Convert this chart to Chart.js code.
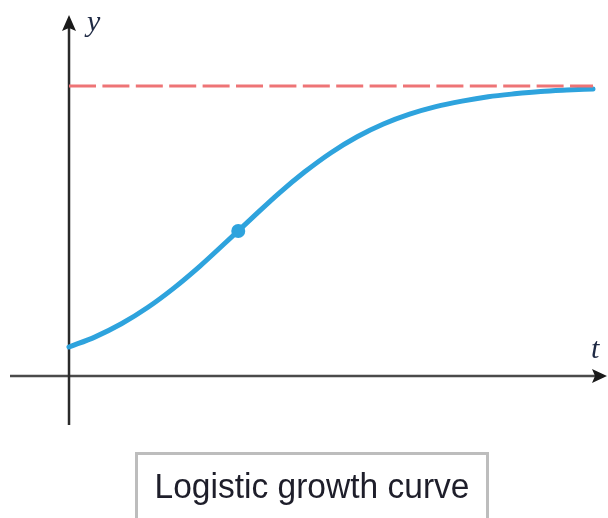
<!DOCTYPE html>
<html>
<head>
<meta charset="utf-8">
<script src="https://cdn.jsdelivr.net/npm/chart.js@4/dist/chart.umd.min.js"></script>
<style>
  html, body { margin: 0; padding: 0; background: #ffffff; }
  #wrap { position: relative; width: 608px; height: 518px; }
  canvas { display: block; }
</style>
</head>
<body>
<div id="wrap"><canvas id="chart" width="608" height="518"></canvas></div>
<script>
// Time samples and population
const tValues = [0, 0.5, 1, 1.5, 2, 2.5, 3, 3.5, 4, 4.5, 5, 5.5, 6, 6.5, 7, 7.5, 8, 8.5, 9, 9.5, 10];
const growthValues = [1.0, 1.35, 1.80, 2.36, 3.03, 3.79, 4.62, 5.46, 6.29, 7.04, 7.70, 8.25, 8.69, 9.03, 9.29, 9.48, 9.63, 9.73, 9.81, 9.86, 9.90];
// Carrying capacity (horizontal asymptote) and its drawn t-range
const carryingCapacity = 10;
const asymptoteT = [0, 10];
// Inflection point, where the population is half the capacity
const inflectionT = [3.23];
const inflectionY = [5.0];
// Axis names and caption
const axisNames = { x: 't', y: 'y' };
const captionText = 'Logistic growth curve';

const curvePoints = tValues.map((t, i) => ({ x: t, y: growthValues[i] }));
const asymptotePoints = asymptoteT.map(t => ({ x: t, y: carryingCapacity }));
const inflectionPoints = inflectionT.map((t, i) => ({ x: t, y: inflectionY[i] }));

// Axes with arrowheads, axis names and the caption box
const axesPlugin = {
  id: 'arrowAxes',
  beforeDatasetsDraw(chart) {
    const { ctx, scales } = chart;
    const x0 = scales.x.getPixelForValue(0);
    const y0 = scales.y.getPixelForValue(0);
    ctx.save();
    // horizontal t-axis
    ctx.strokeStyle = '#4a4a4a';
    ctx.lineWidth = 2.5;
    ctx.beginPath();
    ctx.moveTo(10, y0);
    ctx.lineTo(596, y0);
    ctx.stroke();
    // vertical y-axis
    ctx.strokeStyle = '#2a2a2a';
    ctx.beginPath();
    ctx.moveTo(x0, 425);
    ctx.lineTo(x0, 27);
    ctx.stroke();
    // arrowheads
    ctx.fillStyle = '#1a1a1a';
    ctx.beginPath();
    ctx.moveTo(607, y0);
    ctx.lineTo(592, y0 - 7);
    ctx.lineTo(595, y0);
    ctx.lineTo(592, y0 + 7);
    ctx.closePath();
    ctx.fill();
    ctx.beginPath();
    ctx.moveTo(x0, 15);
    ctx.lineTo(x0 - 7, 31);
    ctx.lineTo(x0, 28);
    ctx.lineTo(x0 + 7, 31);
    ctx.closePath();
    ctx.fill();
    // axis names
    ctx.fillStyle = '#1f2a44';
    ctx.font = 'italic 30px "Liberation Serif", "DejaVu Serif", serif';
    ctx.textBaseline = 'alphabetic';
    ctx.textAlign = 'left';
    ctx.fillText(axisNames.y, 87, 31);
    ctx.fillText(axisNames.x, 591, 358);
    ctx.restore();
  },
  afterDraw(chart) {
    const { ctx } = chart;
    ctx.save();
    // caption box
    ctx.strokeStyle = '#bdbdbd';
    ctx.lineWidth = 3;
    ctx.strokeRect(136.5, 453.5, 351, 80);
    ctx.fillStyle = '#1e1e2a';
    ctx.font = '35px "Liberation Sans", sans-serif';
    ctx.textAlign = 'center';
    ctx.textBaseline = 'alphabetic';
    ctx.fillText(captionText, 312, 498, 315);
    ctx.restore();
  }
};

new Chart(document.getElementById('chart'), {
  type: 'scatter',
  data: {
    datasets: [
      {
        label: 'Carrying capacity',
        data: asymptotePoints,
        showLine: true,
        borderColor: '#ee7476',
        borderWidth: 3,
        borderDash: [27, 6.4],
        pointRadius: 0
      },
      {
        label: 'Logistic growth',
        data: curvePoints,
        showLine: true,
        borderColor: '#2ea3dd',
        borderWidth: 5,
        cubicInterpolationMode: 'monotone',
        pointRadius: 0,
        borderCapStyle: 'round'
      },
      {
        label: 'Inflection point',
        data: inflectionPoints,
        showLine: false,
        pointRadius: 7,
        pointBackgroundColor: '#2ea3dd',
        pointBorderWidth: 0
      }
    ]
  },
  options: {
    responsive: false,
    devicePixelRatio: 1,
    animation: false,
    layout: { padding: 0, autoPadding: false },
    plugins: { legend: { display: false }, tooltip: { enabled: false } },
    scales: {
      x: { type: 'linear', display: false, min: -1.317, max: 10.286 },
      y: { type: 'linear', display: false, min: -4.897, max: 12.966 }
    }
  },
  plugins: [axesPlugin]
});
</script>
</body>
</html>
